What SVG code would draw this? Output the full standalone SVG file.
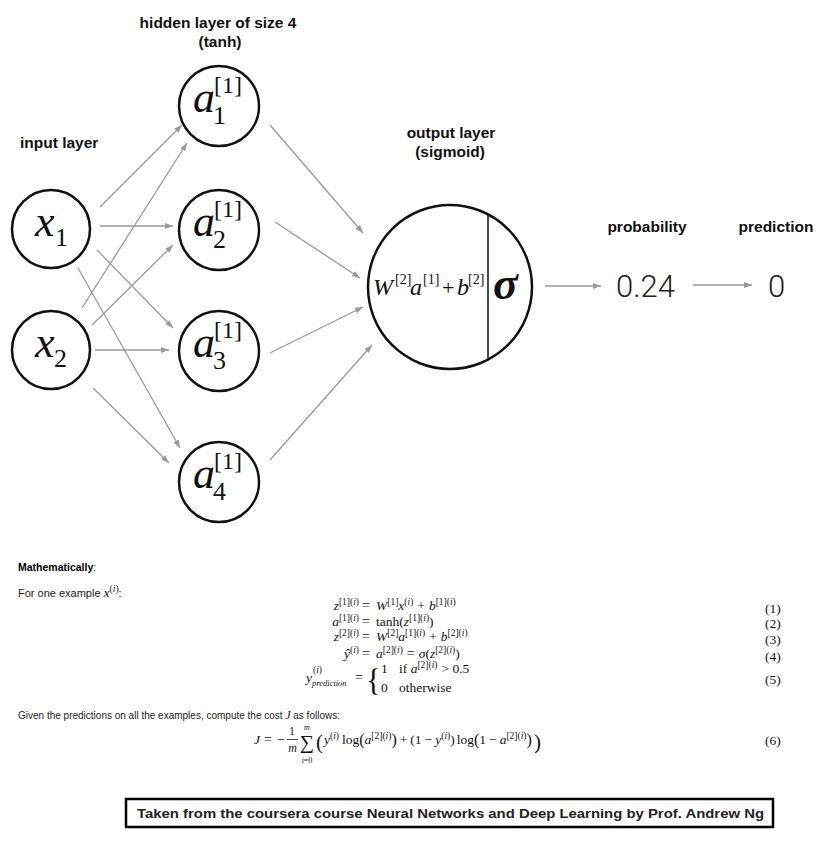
<svg xmlns="http://www.w3.org/2000/svg" width="819" height="841" viewBox="0 0 819 841">
<defs>
<marker id="ah" markerUnits="userSpaceOnUse" markerWidth="9" markerHeight="7" refX="8" refY="3" orient="auto">
<path d="M0,0 L8,3 L0,6 z" fill="#999"/>
</marker>
<style>
.lbl{font-family:"Liberation Sans",Arial,sans-serif;font-weight:bold;font-size:15.5px;fill:#111}
.node{fill:#fff;stroke:#111;stroke-width:2.5}
.v{font-family:"Liberation Serif","Times New Roman",serif;fill:#111}
.big{font-size:44px;font-style:italic}
.sub{font-size:26px}
.sup{font-size:24px}
.conn line{stroke:#999;stroke-width:1.3;marker-end:url(#ah)}
.num{font-family:Roboto,"Liberation Sans",sans-serif;font-weight:300;font-size:31px;fill:#222}
.txt{font-family:"Liberation Sans",Arial,sans-serif;fill:#222}
.m{font-family:"Liberation Serif","Times New Roman",serif;font-size:13.5px;fill:#111}
.i{font-style:italic}
.s{font-size:9.5px}
</style>
</defs>
<rect width="819" height="841" fill="#fff"/>

<text class="lbl" x="218" y="28" text-anchor="middle">hidden layer of size 4</text>
<text class="lbl" x="220" y="47" text-anchor="middle">(tanh)</text>
<text class="lbl" x="20" y="148">input layer</text>
<text class="lbl" x="451" y="138" text-anchor="middle">output layer</text>
<text class="lbl" x="450" y="157" text-anchor="middle">(sigmoid)</text>
<text class="lbl" x="647" y="232" text-anchor="middle">probability</text>
<text class="lbl" x="776" y="232" text-anchor="middle">prediction</text>

<g class="conn">
<line x1="100" y1="207" x2="182" y2="125"/>
<line x1="100" y1="226" x2="173" y2="226"/>
<line x1="97" y1="250" x2="173" y2="328"/>
<line x1="78" y1="268" x2="180" y2="448"/>
<line x1="82" y1="308" x2="187" y2="143"/>
<line x1="92" y1="325" x2="173" y2="245"/>
<line x1="95" y1="350" x2="169" y2="350"/>
<line x1="93" y1="388" x2="169" y2="463"/>
<line x1="270" y1="125" x2="363" y2="233"/>
<line x1="275" y1="222" x2="360" y2="278"/>
<line x1="270" y1="353" x2="363" y2="307"/>
<line x1="270" y1="460" x2="372" y2="345"/>
<line x1="545" y1="286" x2="601" y2="286"/>
<line x1="693" y1="285" x2="752" y2="285"/>
</g>

<g id="x1">
<circle class="node" cx="51" cy="229" r="39"/>
<text class="v big" x="35" y="236">x</text>
<text class="v sub" x="55" y="246">1</text>
</g>
<g id="x2">
<circle class="node" cx="51" cy="350" r="39"/>
<text class="v big" x="35" y="357">x</text>
<text class="v sub" x="54" y="367">2</text>
</g>

<g id="a1">
<circle class="node" cx="219" cy="106" r="40"/>
<text class="v big" x="193" y="112">a</text>
<text class="v sup" x="214" y="93">[1]</text>
<text class="v sub" x="213" y="124">1</text>
</g>
<g id="a2">
<circle class="node" cx="219" cy="230" r="40"/>
<text class="v big" x="193" y="236">a</text>
<text class="v sup" x="214" y="217">[1]</text>
<text class="v sub" x="213" y="248">2</text>
</g>
<g id="a3">
<circle class="node" cx="219" cy="351" r="40"/>
<text class="v big" x="193" y="357">a</text>
<text class="v sup" x="214" y="338">[1]</text>
<text class="v sub" x="213" y="369">3</text>
</g>
<g id="a4">
<circle class="node" cx="219" cy="482" r="40"/>
<text class="v big" x="193" y="488">a</text>
<text class="v sup" x="214" y="469">[1]</text>
<text class="v sub" x="213" y="500">4</text>
</g>

<g id="output">
<circle class="node" cx="450" cy="287" r="82"/>
<line x1="488" y1="214" x2="488" y2="360" stroke="#111" stroke-width="1.5"/>
<text class="v" y="295" font-size="24"><tspan x="373" font-style="italic">W</tspan><tspan x="395" y="284" font-size="14">[2]</tspan><tspan x="410" y="295" font-style="italic">a</tspan><tspan x="423" y="284" font-size="14">[1]</tspan><tspan x="442" y="295" font-size="22">+</tspan><tspan x="457" y="295" font-style="italic">b</tspan><tspan x="468" y="284" font-size="14">[2]</tspan></text>
<text class="v" x="493" y="299" font-size="46" font-weight="bold" font-style="italic">σ</text>
</g>

<g id="probability">
<text class="num" x="616" y="297">0.24</text>
</g>
<g id="prediction">
<text class="num" x="768" y="297">0</text>
</g>

<g id="math">
<text class="txt" x="18" y="571" font-size="10.5"><tspan font-weight="bold" fill="#000">Mathematically</tspan>:</text>
<text class="txt" x="18" y="597" font-size="11">For one example <tspan class="m i">x</tspan><tspan class="m s" dy="-5">(</tspan><tspan class="m s i">i</tspan><tspan class="m s">)</tspan><tspan dy="5">:</tspan></text>

<text class="m" x="359" y="610" text-anchor="end"><tspan class="i">z</tspan><tspan class="s" dy="-5">[1](</tspan><tspan class="s i">i</tspan><tspan class="s">)</tspan></text>
<text class="m" x="362" y="610" style="font-size:14px">=</text>
<text class="m" x="376" y="610"><tspan class="i">W</tspan><tspan class="s" dy="-5">[1]</tspan><tspan class="i" dy="5">x</tspan><tspan class="s" dy="-5">(</tspan><tspan class="s i">i</tspan><tspan class="s">)</tspan><tspan dy="5" dx="4">+</tspan><tspan class="i" dx="4">b</tspan><tspan class="s" dy="-5">[1](</tspan><tspan class="s i">i</tspan><tspan class="s">)</tspan></text>

<text class="m" x="359" y="626" text-anchor="end"><tspan class="i">a</tspan><tspan class="s" dy="-5">[1](</tspan><tspan class="s i">i</tspan><tspan class="s">)</tspan></text>
<text class="m" x="362" y="626" style="font-size:14px">=</text>
<text class="m" x="376" y="626">tanh(<tspan class="i">z</tspan><tspan class="s" dy="-5">[1](</tspan><tspan class="s i">i</tspan><tspan class="s">)</tspan><tspan dy="5">)</tspan></text>

<text class="m" x="359" y="641" text-anchor="end"><tspan class="i">z</tspan><tspan class="s" dy="-5">[2](</tspan><tspan class="s i">i</tspan><tspan class="s">)</tspan></text>
<text class="m" x="362" y="641" style="font-size:14px">=</text>
<text class="m" x="376" y="641"><tspan class="i">W</tspan><tspan class="s" dy="-5">[2]</tspan><tspan class="i" dy="5">a</tspan><tspan class="s" dy="-5">[1](</tspan><tspan class="s i">i</tspan><tspan class="s">)</tspan><tspan dy="5" dx="4">+</tspan><tspan class="i" dx="4">b</tspan><tspan class="s" dy="-5">[2](</tspan><tspan class="s i">i</tspan><tspan class="s">)</tspan></text>

<text class="m" x="359" y="658" text-anchor="end"><tspan class="i">ŷ</tspan><tspan class="s" dy="-5">(</tspan><tspan class="s i">i</tspan><tspan class="s">)</tspan></text>
<text class="m" x="362" y="658" style="font-size:14px">=</text>
<text class="m" x="376" y="658"><tspan class="i">a</tspan><tspan class="s" dy="-5">[2](</tspan><tspan class="s i">i</tspan><tspan class="s">)</tspan><tspan dy="5" dx="4" font-size="14">=</tspan><tspan class="i" dx="4">σ</tspan>(<tspan class="i">z</tspan><tspan class="s" dy="-5">[2](</tspan><tspan class="s i">i</tspan><tspan class="s">)</tspan><tspan dy="5">)</tspan></text>

<text class="m i" x="306" y="682">y</text>
<text class="m s" x="313" y="673">(<tspan class="i">i</tspan>)</text>
<text class="m i" x="312" y="686" style="font-size:8.5px">prediction</text>
<text class="m" x="355" y="682" style="font-size:14px">=</text>
<text class="m" x="366" y="691" style="font-size:31px">{</text>
<text class="m" x="381" y="673">1</text>
<text class="m" x="399" y="673">if <tspan class="i">a</tspan><tspan class="s" dy="-5">[2](</tspan><tspan class="s i">i</tspan><tspan class="s">)</tspan><tspan dy="5" dx="4">&gt;</tspan> 0.5</text>
<text class="m" x="381" y="692">0</text>
<text class="m" x="399" y="692">otherwise</text>

<text class="m" x="765" y="613">(1)</text>
<text class="m" x="765" y="628">(2)</text>
<text class="m" x="765" y="644">(3)</text>
<text class="m" x="765" y="661">(4)</text>
<text class="m" x="765" y="684">(5)</text>

<text class="txt" x="18" y="719" font-size="10">Given the predictions on all the examples, compute the cost <tspan class="m i" style="font-size:11.5px">J</tspan> as follows:</text>

<text class="m i" x="254" y="744">J</text>
<text class="m" x="264" y="744" style="font-size:14px">=</text>
<text class="m" x="277" y="744" style="font-size:14px">−</text>
<text class="m" x="292" y="735" text-anchor="middle" style="font-size:12px">1</text>
<line x1="287" y1="739.5" x2="298" y2="739.5" stroke="#111" stroke-width="0.8"/>
<text class="m i" x="292.5" y="752" text-anchor="middle" style="font-size:12px">m</text>
<text class="m" x="307" y="749" text-anchor="middle" style="font-size:20px">∑</text>
<text class="m i" x="307" y="730" text-anchor="middle" style="font-size:8px">m</text>
<text class="m" x="307" y="763" text-anchor="middle" style="font-size:8px"><tspan class="i">i</tspan>=0</text>
<text class="m" x="316" y="749" style="font-size:21px">(</text>
<text class="m" x="324" y="744"><tspan class="i">y</tspan><tspan class="s" dy="-5">(</tspan><tspan class="s i">i</tspan><tspan class="s">)</tspan><tspan dy="5" dx="3">log</tspan><tspan font-size="16" dy="1">(</tspan><tspan class="i" dy="-1">a</tspan><tspan class="s" dy="-5">[2](</tspan><tspan class="s i">i</tspan><tspan class="s">)</tspan><tspan font-size="16" dy="6">)</tspan><tspan dy="-1" dx="3">+</tspan><tspan dx="3">(1</tspan><tspan dx="3">−</tspan><tspan class="i" dx="3">y</tspan><tspan class="s" dy="-5">(</tspan><tspan class="s i">i</tspan><tspan class="s">)</tspan><tspan dy="5">)</tspan><tspan dx="2">log</tspan><tspan font-size="16" dy="1">(</tspan><tspan dy="-1">1</tspan><tspan dx="3">−</tspan><tspan class="i" dx="3">a</tspan><tspan class="s" dy="-5">[2](</tspan><tspan class="s i">i</tspan><tspan class="s">)</tspan><tspan font-size="16" dy="6">)</tspan></text>
<text class="m" x="534" y="749" style="font-size:21px">)</text>
<text class="m" x="765" y="745">(6)</text>
</g>

<g id="credit">
<rect x="126" y="799" width="647" height="28" fill="#fff" stroke="#000" stroke-width="2.5"/>
<text class="txt" x="137" y="818" font-size="13.5" font-weight="bold" fill="#000" textLength="627" lengthAdjust="spacingAndGlyphs">Taken from the coursera course Neural Networks and Deep Learning by Prof. Andrew Ng</text>
</g>
</svg>
